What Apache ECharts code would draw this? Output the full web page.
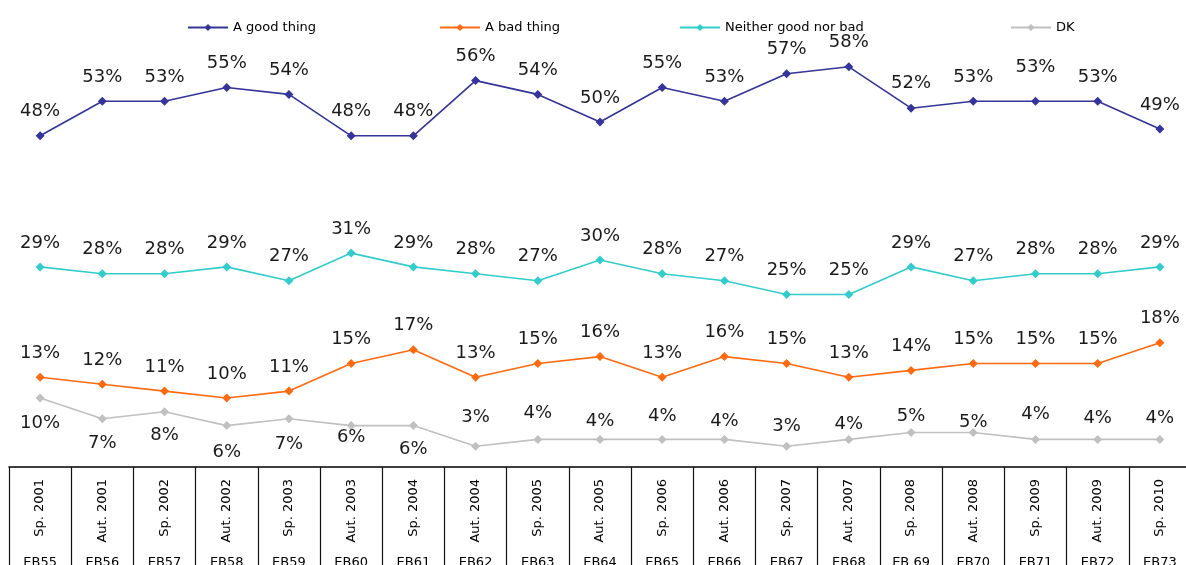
<!DOCTYPE html>
<html>
<head>
<meta charset="utf-8">
<script src="https://cdn.jsdelivr.net/npm/echarts@6/dist/echarts.min.js"></script>
<style>
  html, body { margin: 0; padding: 0; background: #ffffff; overflow: hidden; }
  #chart { width: 1186px; height: 565px; }
</style>
</head>
<body>
<div id="chart"></div>
<script>
// Survey waves (season label + wave code)
const seasons = ['Sp. 2001', 'Aut. 2001', 'Sp. 2002', 'Aut. 2002', 'Sp. 2003', 'Aut. 2003', 'Sp. 2004',
  'Aut. 2004', 'Sp. 2005', 'Aut. 2005', 'Sp. 2006', 'Aut. 2006', 'Sp. 2007', 'Aut. 2007', 'Sp. 2008',
  'Aut. 2008', 'Sp. 2009', 'Aut. 2009', 'Sp. 2010'];
const waves = ['EB55', 'EB56', 'EB57', 'EB58', 'EB59', 'EB60', 'EB61', 'EB62', 'EB63', 'EB64',
  'EB65', 'EB66', 'EB67', 'EB68', 'EB 69', 'EB70', 'EB71', 'EB72', 'EB73'];

// Answer shares (%)
const goodThing = [48, 53, 53, 55, 54, 48, 48, 56, 54, 50, 55, 53, 57, 58, 52, 53, 53, 53, 49];
const badThing = [13, 12, 11, 10, 11, 15, 17, 13, 15, 16, 13, 16, 15, 13, 14, 15, 15, 15, 18];
const neither = [29, 28, 28, 29, 27, 31, 29, 28, 27, 30, 28, 27, 25, 25, 29, 27, 28, 28, 29];
const dontKnow = [10, 7, 8, 6, 7, 6, 6, 3, 4, 4, 4, 4, 3, 4, 5, 5, 4, 4, 4];

// Vertical placement of the value labels relative to their point (px)
const goodLabelDy = [-24, -24, -24, -24, -24, -24, -24, -24, -24, -24, -24, -24, -24, -24, -25, -24, -34, -24, -24];
const dkLabelDy = [25, 25, 24, 27, 26, 12, 24, -29, -26, -18, -23, -18, -20, -15, -16, -10, -25, -21, -21];

const FONT = 'DejaVu Sans';

function withLabels(values, dys) {
  return values.map((v, i) => ({
    value: v,
    label: { offset: [0, dys ? dys[i] : -24] }
  }));
}

function lineSeries(name, color, values, dys) {
  return {
    name: name,
    type: 'line',
    data: withLabels(values, dys),
    symbol: 'diamond',
    symbolSize: 9,
    itemStyle: { color: color },
    lineStyle: { color: color, width: 1.6 },
    label: {
      show: true,
      position: 'inside',
      formatter: '{c}%',
      color: '#1a1a1a',
      fontFamily: FONT,
      fontSize: 18
    },
    emphasis: { disabled: true },
    animation: false
  };
}

function legendAt(name, left) {
  return {
    data: [name],
    left: left,
    top: 16,
    itemWidth: 40,
    itemHeight: 9,
    textStyle: { fontFamily: FONT, fontSize: 13, color: '#000' }
  };
}

const chart = echarts.init(document.getElementById('chart'), null, { renderer: 'canvas' });
chart.setOption({
  backgroundColor: '#ffffff',
  animation: false,
  legend: [
    legendAt('A good thing', 182),
    legendAt('A bad thing', 434),
    legendAt('Neither good nor bad', 674),
    legendAt('DK', 1005)
  ],
  // The grid runs past the right and bottom edges, so keep ECharts from shrinking it
  grid: { left: 9, width: 1182, top: 53, height: 414, containLabel: false, outerBoundsMode: 'none' },
  xAxis: [
    {
      type: 'category',
      data: seasons,
      boundaryGap: true,
      axisLine: { show: true, lineStyle: { color: '#000', width: 1.5 } },
      axisTick: { show: true, interval: 0, length: 100, lineStyle: { color: '#111', width: 1.2 } },
      axisLabel: {
        interval: 0, rotate: 90, margin: 12,
        fontFamily: FONT, fontSize: 13, color: '#000'
      }
    },
    {
      type: 'category',
      data: waves,
      position: 'bottom',
      boundaryGap: true,
      axisLine: { show: false },
      axisTick: { show: false },
      axisLabel: {
        interval: 0, margin: 89,
        fontFamily: FONT, fontSize: 13, color: '#000'
      }
    }
  ],
  yAxis: {
    type: 'value',
    min: 0,
    max: 60,
    show: false,
    splitLine: { show: false }
  },
  series: [
    lineSeries('A good thing', '#34349a', goodThing, goodLabelDy),
    lineSeries('A bad thing', '#ff6a10', badThing),
    lineSeries('Neither good nor bad', '#33cccc', neither),
    lineSeries('DK', '#c0c0c0', dontKnow, dkLabelDy)
  ]
});
</script>
</body>
</html>
